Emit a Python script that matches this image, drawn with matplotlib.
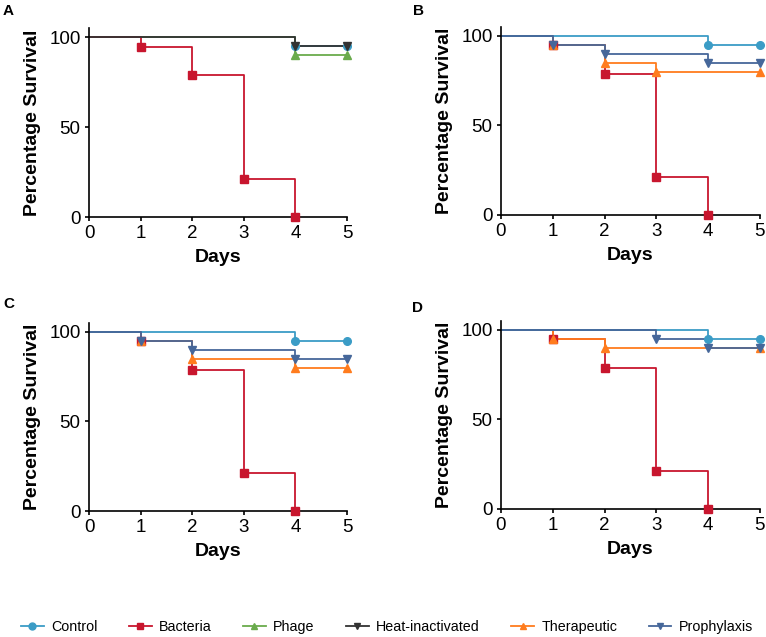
import matplotlib
matplotlib.use('Agg')
import matplotlib.pyplot as plt
from matplotlib.lines import Line2D

plt.rcParams['font.family'] = ['Liberation Sans', 'DejaVu Sans']

# survival data: (event days, survival %) per group, per panel
days_bacteria = [0, 1, 2, 3, 4]
surv_bacteria = [100, 94.7, 78.9, 21.1, 0]

panel_a = {
    'Control': ([0, 4, 5], [100, 95, 95]),
    'Phage': ([0, 4, 5], [100, 90, 90]),
    'Bacteria': (days_bacteria, surv_bacteria),
    'Heat-inactivated': ([0, 4, 5], [100, 95, 95]),
}
panel_b = {
    'Bacteria': (days_bacteria, surv_bacteria),
    'Therapeutic': ([0, 1, 2, 3, 5], [100, 95, 85, 80, 80]),
    'Control': ([0, 4, 5], [100, 95, 95]),
    'Prophylaxis': ([0, 1, 2, 4, 5], [100, 95, 90, 85, 85]),
}
panel_c = {
    'Bacteria': (days_bacteria, surv_bacteria),
    'Therapeutic': ([0, 1, 2, 4, 5], [100, 95, 85, 80, 80]),
    'Control': ([0, 4, 5], [100, 95, 95]),
    'Prophylaxis': ([0, 1, 2, 4, 5], [100, 95, 90, 85, 85]),
}
panel_d = {
    'Bacteria': (days_bacteria, surv_bacteria),
    'Therapeutic': ([0, 1, 2, 5], [100, 95, 90, 90]),
    'Control': ([0, 4, 5], [100, 95, 95]),
    'Prophylaxis': ([0, 3, 4, 5], [100, 95, 90, 90]),
}

groups = ['Control', 'Bacteria', 'Phage', 'Heat-inactivated', 'Therapeutic', 'Prophylaxis']
colors = {
    'Control': '#3b9cc6',
    'Bacteria': '#c8162e',
    'Phage': '#6aab4c',
    'Heat-inactivated': '#333333',
    'Therapeutic': '#ff7c1e',
    'Prophylaxis': '#46679a',
}
markers = {
    'Control': 'o',
    'Bacteria': 's',
    'Phage': '^',
    'Heat-inactivated': 'v',
    'Therapeutic': '^',
    'Prophylaxis': 'v',
}

fig = plt.figure(figsize=(7.66, 6.37), dpi=100)

positions = [
    ('A', panel_a, [0.1162, 0.6593, 0.3368, 0.2967], (0.004, 0.9937)),
    ('B', panel_b, [0.654, 0.6625, 0.338, 0.2951], (0.539, 0.9937)),
    ('C', panel_c, [0.1162, 0.1978, 0.3368, 0.2952], (0.004, 0.5338)),
    ('D', panel_d, [0.654, 0.201, 0.338, 0.2951], (0.538, 0.5275)),
]

for letter, data, rect, lpos in positions:
    ax = fig.add_axes(rect)
    for name, (x, y) in data.items():
        c = colors[name]
        ax.step(x, y, where='post', color=c, lw=1.3, zorder=2)
        ax.plot(x[1:], y[1:], linestyle='none', marker=markers[name], color=c,
                markersize=5.5, zorder=3, clip_on=False)
    ax.set_xlim(0, 5)
    ax.set_ylim(0, 105)
    ax.set_xticks([0, 1, 2, 3, 4, 5])
    ax.set_yticks([0, 50, 100])
    ax.spines['top'].set_visible(False)
    ax.spines['right'].set_visible(False)
    ax.spines['left'].set_linewidth(1.2)
    ax.spines['bottom'].set_linewidth(1.2)
    ax.tick_params(labelsize=13.5, width=1.2, length=3, pad=3)
    ax.set_xlabel('Days', fontsize=14, fontweight='bold', labelpad=5)
    ax.set_ylabel('Percentage Survival', fontsize=14, fontweight='bold', labelpad=6)
    fig.text(lpos[0], lpos[1], letter, fontsize=11, fontweight='bold', va='top')

handles = [Line2D([0], [0], color=colors[g], marker=markers[g], markersize=5, lw=1.3)
           for g in groups]
fig.legend(handles, groups, loc='center', bbox_to_anchor=(0.505, 0.0157), ncol=6,
           frameon=False, fontsize=10.3, handlelength=1.6, handletextpad=0.5,
           columnspacing=2.2, borderpad=0, borderaxespad=0)

fig.savefig('out.png', dpi=100)
